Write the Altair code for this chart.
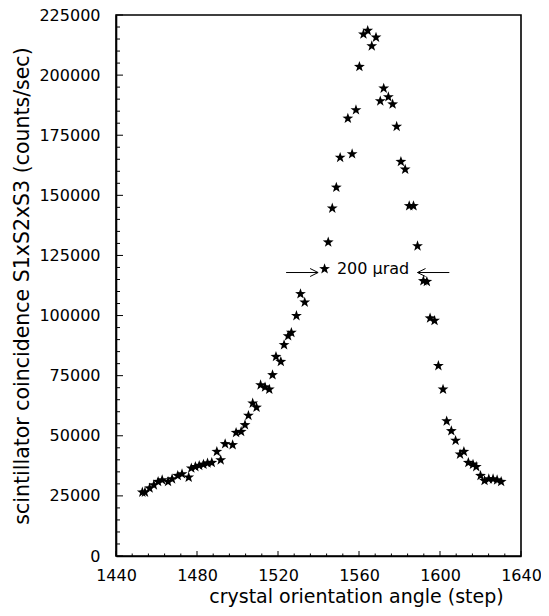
import altair as alt
import pandas as pd

# measured points: crystal orientation angle (step) vs coincidence rate (counts/sec)
steps = [
    1453.0, 1454.3, 1456.6, 1458.7, 1460.8, 1462.8, 1465.7, 1467.7, 1470.5, 1472.6,
    1475.9, 1477.2, 1479.2, 1481.1, 1483.2, 1485.2, 1487.3, 1489.8, 1491.7, 1493.9,
    1497.6, 1499.3, 1501.8, 1503.7, 1505.4, 1507.5, 1509.4, 1511.4, 1513.6, 1515.7,
    1517.3, 1519.0, 1521.4, 1523.0, 1525.0, 1526.6, 1529.1, 1531.1, 1533.2, 1543.0,
    1544.8, 1546.8, 1548.8, 1550.7, 1554.5, 1556.6, 1558.5, 1560.2, 1562.2, 1564.3,
    1566.3, 1568.4, 1570.5, 1572.2, 1574.5, 1576.6, 1578.6, 1580.7, 1582.8, 1584.8,
    1586.9, 1588.9, 1591.8, 1593.5, 1595.1, 1597.3, 1599.2, 1601.5, 1603.3, 1605.6,
    1607.7, 1609.9, 1611.8, 1614.0, 1616.3, 1617.9, 1620.0, 1622.0, 1624.1, 1626.2,
    1628.2, 1630.2,
]
counts = [
    26500, 26500, 28200, 29500, 30900, 31600, 30900, 32000, 33400, 34100,
    32700, 36500, 37100, 37600, 38100, 38600, 38800, 43400, 39900, 46600,
    46200, 51300, 51700, 54500, 58400, 63500, 61800, 71100, 70200, 69300,
    75300, 82900, 80800, 87800, 91500, 92900, 99900, 109000, 105500, 119400,
    130500, 144600, 153300, 165700, 182000, 167200, 185500, 203500, 217000, 218500,
    212100, 215700, 189200, 194500, 190900, 187900, 178600, 164000, 160800, 145600,
    145600, 128900, 114400, 114100, 98900, 97900, 79100, 69300, 56100, 52000,
    48000, 42300, 43400, 38800, 38100, 37100, 33400, 31300, 32000, 32000,
    31600, 30900,
]

x_major = [1440, 1480, 1520, 1560, 1600, 1640]
x_minor = [1448, 1456, 1464, 1472, 1488, 1496, 1504, 1512, 1528, 1536, 1544, 1552,
           1568, 1576, 1584, 1592, 1608, 1616, 1624, 1632]
y_major = [0, 25000, 50000, 75000, 100000, 125000, 150000, 175000, 200000, 225000]
y_minor = [v + d for v in y_major[:-1] for d in (5000, 10000, 15000, 20000)]

# FWHM annotation "200 urad" with two arrows
arrow_from = [1524.0, 1604.6]
arrow_to = [1539.8, 1588.9]
arrow_y = [117900, 117900]
label_x = [1549.1]
label_y = [119400]
label_text = ["200 \u03bcrad"]

W, H = 405, 541
FONT = "DejaVu Sans"
# five-pointed star glyph (Vega has no built-in star symbol)
STAR = ("M0,-1L0.235,-0.324L0.951,-0.309L0.38,0.124L0.588,0.809L0,0.4"
        "L-0.588,0.809L-0.38,0.124L-0.951,-0.309L-0.235,-0.324Z")

df = pd.DataFrame({"step": steps, "counts": counts})
x_scale = alt.Scale(domain=[1440, 1640], nice=False, zero=False)
y_scale = alt.Scale(domain=[0, 225000], nice=False)
x_axis = alt.Axis(values=x_major, format="d", title="crystal orientation angle (step)",
                  titleX=240, titleY=31, titleBaseline="top", labelPadding=11)
y_axis = alt.Axis(values=y_major, format="d",
                  title="scintillator coincidence S1xS2xS3 (counts/sec)",
                  labelPadding=16, titlePadding=6, titleFontSize=20.5)

def X(field):
    return alt.X(field, scale=x_scale, axis=x_axis)

def Y(field):
    return alt.Y(field, scale=y_scale, axis=y_axis)

points = alt.Chart(df).mark_point(
    shape=STAR, filled=True, color="black", size=130, opacity=1
).encode(x=X("step:Q"), y=Y("counts:Q"))

def x_ticks(vals, length):
    return alt.Chart(pd.DataFrame({"v": vals})).mark_rule(color="black", strokeWidth=1).encode(
        x=X("v:Q"), y=alt.value(H), y2=alt.value(H - length),
    )

def y_ticks(vals, length):
    return alt.Chart(pd.DataFrame({"v": vals})).mark_rule(color="black", strokeWidth=1).encode(
        y=Y("v:Q"), x=alt.value(0), x2=alt.value(length),
    )

arrows_df = pd.DataFrame({"x": arrow_from, "x2": arrow_to, "y": arrow_y})
shafts = alt.Chart(arrows_df).mark_rule(color="black", strokeWidth=1).encode(
    x=X("x:Q"), x2="x2:Q", y=Y("y:Q"),
)
head_right = alt.Chart(arrows_df.iloc[[0]]).mark_point(
    shape="M-2,-1L0,0L-2,1", filled=False, color="black", size=64, strokeWidth=1, opacity=1
).encode(x=X("x2:Q"), y=Y("y:Q"))
head_left = alt.Chart(arrows_df.iloc[[1]]).mark_point(
    shape="M2,-1L0,0L2,1", filled=False, color="black", size=64, strokeWidth=1, opacity=1
).encode(x=X("x2:Q"), y=Y("y:Q"))

label = alt.Chart(pd.DataFrame({"x": label_x, "y": label_y, "t": label_text})).mark_text(
    align="left", baseline="middle", font=FONT, fontSize=16, color="black"
).encode(x=X("x:Q"), y=Y("y:Q"), text="t:N")

chart = alt.layer(
    points,
    x_ticks(x_major, 5), x_ticks(x_minor, 2.5),
    y_ticks(y_major, 7), y_ticks(y_minor, 4),
    shafts, head_right, head_left, label,
).properties(
    width=W, height=H,
    autosize=alt.AutoSizeParams(type="none"),
    padding={"left": 108, "top": 7, "right": 20, "bottom": 52},
).configure_view(
    stroke="black", strokeWidth=1.6
).configure_axis(
    grid=False, ticks=False, tickSize=0, domain=True, domainColor="black", domainWidth=1.6,
    labelFont=FONT, labelFontSize=16, labelColor="black", labelFlush=False,
    titleFont=FONT, titleFontSize=19, titleFontWeight="normal", titleColor="black",
)

chart.save("out.html", embed_options={"renderer": "svg", "actions": False})
